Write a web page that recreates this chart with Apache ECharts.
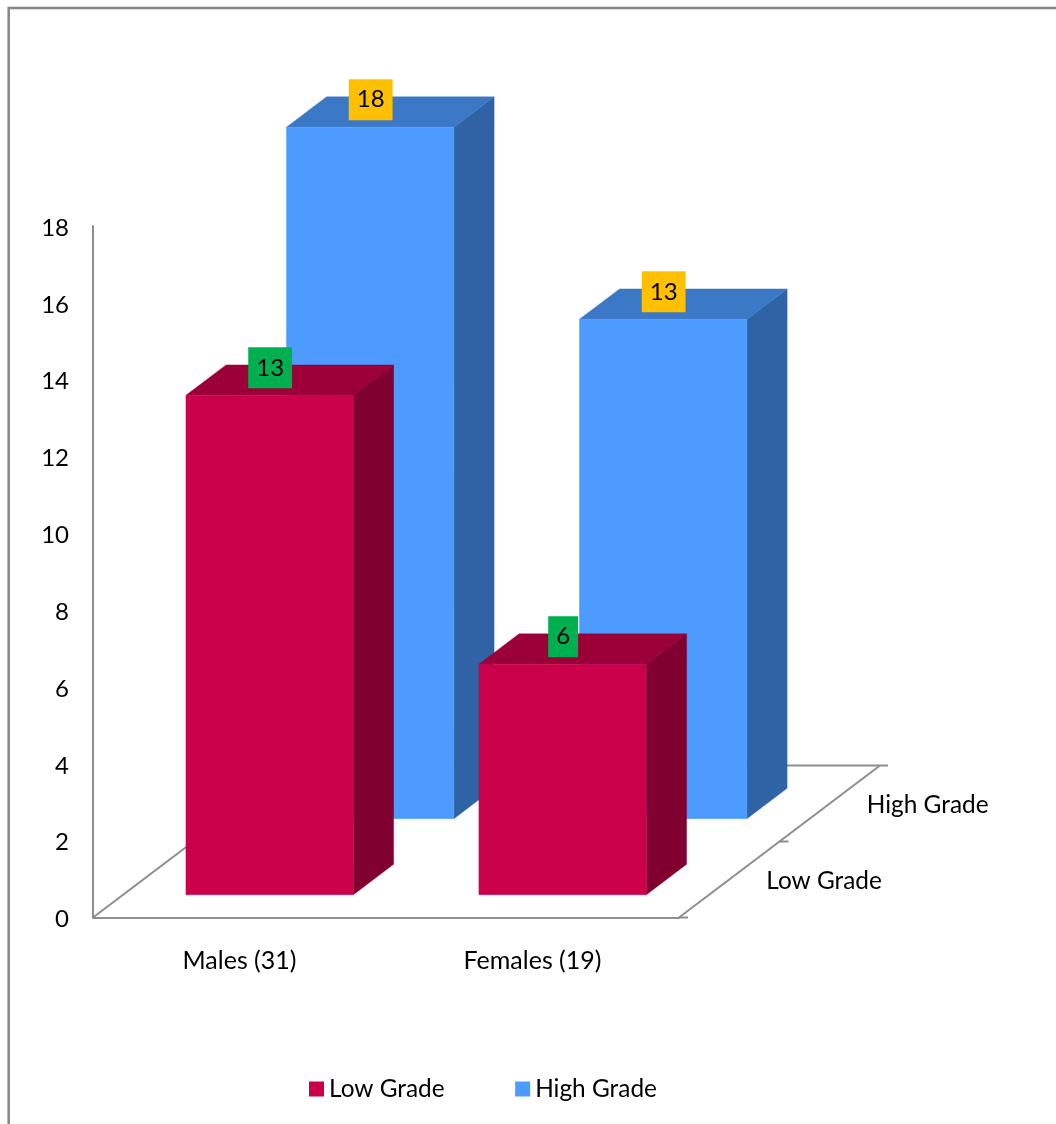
<!DOCTYPE html>
<html>
<head>
<meta charset="utf-8">
<style>
  html, body { margin: 0; padding: 0; background: #fff; overflow: hidden; }
  #chart { width: 1056px; height: 1124px; }
</style>
<script src="https://cdn.jsdelivr.net/npm/echarts@6/dist/echarts.min.js"></script>
</head>
<body>
<div id="chart"></div>
<script>
// Tumour grade counts by sex
const categories = ['Males (31)', 'Females (19)'];
const depthCategories = ['Low Grade', 'High Grade'];
const lowGrade = [13, 6];
const highGrade = [18, 13];
const axisMax = 18;
const axisStep = 2;

const FONT = 'Lato, Carlito, "Open Sans", sans-serif';
const FONT_SIZE = 25;
const GRADE_FONT_SIZE = 24.4;
const DIGIT_FONT_SIZE = 24;
const LINE = '#8e8e8e';

// Oblique projection of the depth axis, in pixels across both rows
const DEPTH_DX = 201;
const DEPTH_DY = 152;
const ROWS = depthCategories.length;
const BAR_WIDTH = 167.5;
const DEPTH_GAP = 0.3;   // share of a row left empty in front of the bar
const BAR_DEPTH = 0.4;   // share of a row taken up by the bar

// A column in the given depth row: front face, top face and side face, plus its value tag
function columnRenderer(row, colors, tagColor) {
  return function (params, api) {
    const top = api.coord([api.value(0), api.value(1)]);
    const base = api.coord([api.value(0), 0]);
    const frac = (row + DEPTH_GAP) / ROWS;
    const ox = DEPTH_DX * frac;
    const oy = DEPTH_DY * frac;
    const dx = DEPTH_DX * BAR_DEPTH / ROWS;
    const dy = DEPTH_DY * BAR_DEPTH / ROWS;
    const l = top[0] + ox - BAR_WIDTH / 2;
    const r = l + BAR_WIDTH;
    const t = top[1] - oy;
    const b = base[1] - oy;
    return {
      type: 'group',
      children: [
        { type: 'polygon', shape: { points: [[r, t], [r + dx, t - dy], [r + dx, b - dy], [r, b]] }, style: { fill: colors.side, stroke: colors.side, lineWidth: 0.4 } },
        { type: 'polygon', shape: { points: [[l, t], [l + dx, t - dy], [r + dx, t - dy], [r, t]] }, style: { fill: colors.top, stroke: colors.top, lineWidth: 0.4 } },
        { type: 'rect', shape: { x: l, y: t, width: BAR_WIDTH, height: b - t }, style: { fill: colors.front, stroke: colors.front, lineWidth: 0.4 } },
        {
          type: 'text',
          x: (l + r) / 2 + 0.5,
          y: t - 27.5,
          style: {
            text: String(api.value(1)),
            font: DIGIT_FONT_SIZE + 'px ' + FONT,
            fill: '#000',
            align: 'center',
            verticalAlign: 'middle',
            backgroundColor: tagColor,
            padding: [8.5, 8, 8.5, 8]
          }
        }
      ]
    };
  };
}

// Floor outline, depth ticks and depth-axis labels
function renderFloor(params) {
  const g = params.coordSys;
  const x0 = g.x;
  const x1 = g.x + g.width;
  const y0 = g.y + g.height;
  const line = (a, b) => ({
    type: 'line',
    shape: { x1: a[0], y1: a[1], x2: b[0], y2: b[1] },
    style: { stroke: LINE, lineWidth: 2 }
  });
  const children = [
    line([x0, y0], [x0 + DEPTH_DX, y0 - DEPTH_DY]),
    line([x0 + DEPTH_DX, y0 - DEPTH_DY], [x1 + DEPTH_DX + 8, y0 - DEPTH_DY]),
    line([x1, y0], [x1 + DEPTH_DX, y0 - DEPTH_DY]),
    line([x1, y0], [x1 + 9, y0])
  ];
  depthCategories.forEach((name, i) => {
    const edge = (i + 1) / ROWS;
    if (i < ROWS - 1) {
      children.push(line(
        [x1 + DEPTH_DX * edge, y0 - DEPTH_DY * edge],
        [x1 + DEPTH_DX * edge + 9, y0 - DEPTH_DY * edge]
      ));
    }
    const mid = (i + 0.5) / ROWS;
    children.push({
      type: 'text',
      x: x1 + DEPTH_DX * mid + 37,
      y: y0 - DEPTH_DY * mid + 2,
      style: { text: name, font: GRADE_FONT_SIZE + 'px ' + FONT, fill: '#000', align: 'left', verticalAlign: 'middle' }
    });
  });
  return { type: 'group', children };
}

const toPoints = values => values.map((v, i) => [i, v]);

const chart = echarts.init(document.getElementById('chart'), null, { renderer: 'canvas' });
chart.setOption({
  animation: false,
  backgroundColor: '#ffffff',
  graphic: [{
    type: 'polyline',
    shape: { points: [[8.7, 1124], [8.7, 8], [1056, 8]] },
    style: { stroke: '#878787', lineWidth: 2.5, fill: 'none' },
    silent: true
  }],
  legend: {
    data: ['Low Grade', 'High Grade'],
    left: 304,
    top: 1072,
    icon: 'rect',
    itemWidth: 15,
    itemHeight: 15,
    itemGap: 70.5,
    selectedMode: false,
    textStyle: { fontFamily: FONT, fontSize: GRADE_FONT_SIZE, color: '#000' }
  },
  grid: { left: 93, top: 226, width: 586, height: 691.5, containLabel: false },
  xAxis: {
    type: 'category',
    data: categories,
    axisLine: { lineStyle: { color: LINE, width: 2 } },
    axisTick: { show: false },
    axisLabel: { fontFamily: FONT, fontSize: FONT_SIZE, color: '#000', margin: 31 }
  },
  yAxis: {
    type: 'value',
    min: 0,
    max: axisMax,
    interval: axisStep,
    splitLine: { show: false },
    axisLine: { show: true, lineStyle: { color: LINE, width: 2 } },
    axisTick: { show: false },
    axisLabel: {
      fontFamily: FONT,
      fontSize: DIGIT_FONT_SIZE,
      color: '#000',
      margin: 24,
      verticalAlign: 'top',
      padding: [-10, 0, 0, 0]
    }
  },
  series: [
    {
      name: 'Floor',
      type: 'custom',
      z: 1,
      silent: true,
      data: [[0, 0]],
      encode: { x: 0, y: 1 },
      renderItem: renderFloor
    },
    {
      name: 'High Grade',
      type: 'custom',
      z: 2,
      silent: true,
      itemStyle: { color: '#4d9bff' },
      data: toPoints(highGrade),
      encode: { x: 0, y: 1 },
      renderItem: columnRenderer(1, { front: '#4d9bff', top: '#3b78c6', side: '#2f63a5' }, '#ffc000')
    },
    {
      name: 'Low Grade',
      type: 'custom',
      z: 3,
      silent: true,
      itemStyle: { color: '#ca004b' },
      data: toPoints(lowGrade),
      encode: { x: 0, y: 1 },
      renderItem: columnRenderer(0, { front: '#ca004b', top: '#9b0039', side: '#800030' }, '#00b050')
    }
  ]
});
</script>
</body>
</html>
